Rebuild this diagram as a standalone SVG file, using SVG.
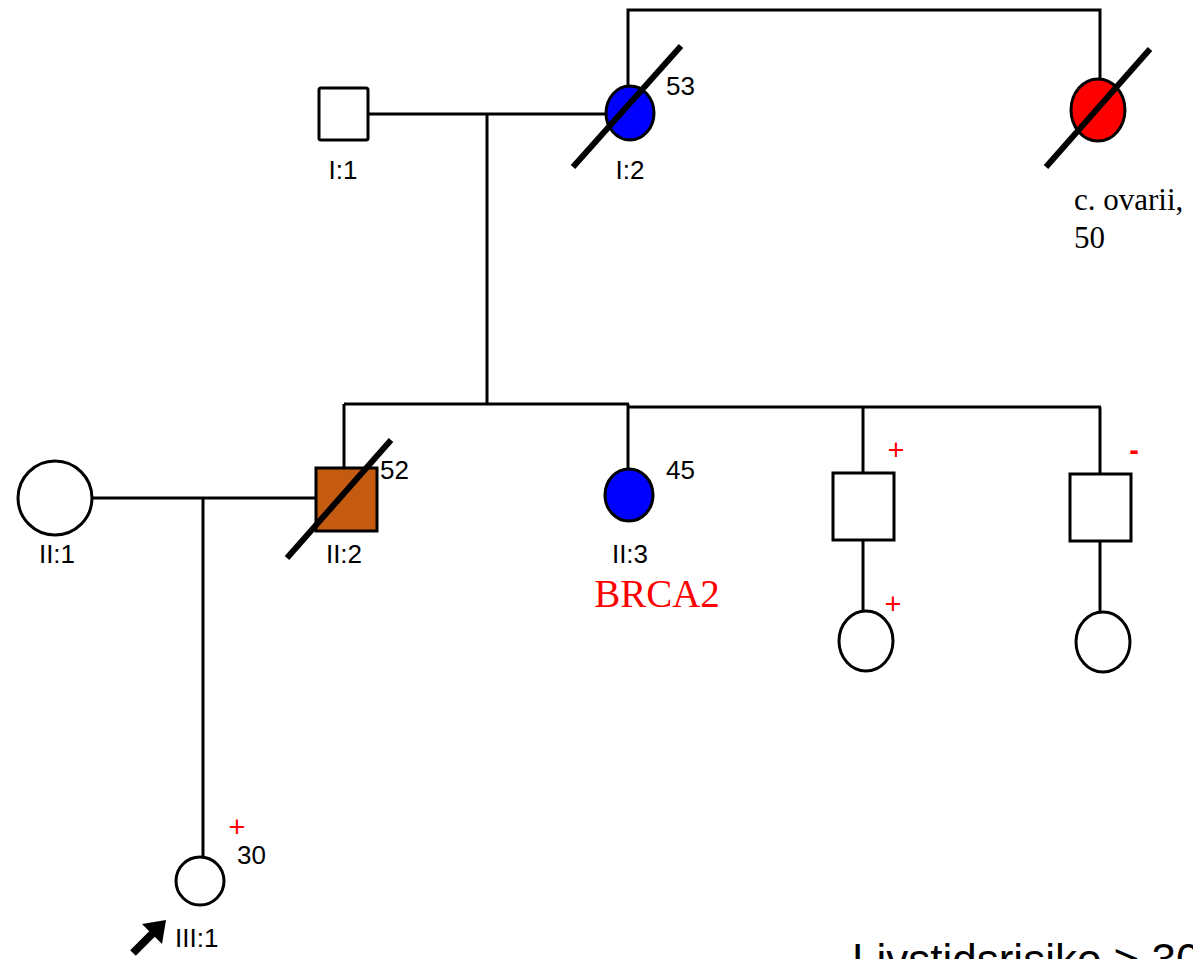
<svg xmlns="http://www.w3.org/2000/svg" width="1193" height="959" viewBox="0 0 1193 959">
<defs>
<style>
.ln{stroke:#000;stroke-width:3;fill:none}
.sym{stroke:#000;stroke-width:3}
.slash{stroke:#000;stroke-width:6}
.lbl{font-family:"Liberation Sans",Arial,sans-serif;font-size:26px;fill:#000}
.red{font-family:"Liberation Sans",Arial,sans-serif;font-size:29px;fill:#f00}
.serif{font-family:"Liberation Serif","Times New Roman",serif;font-size:31px;fill:#000}
</style>
</defs>
<rect width="1193" height="959" fill="#fff"/>
<g id="connectors">
<polyline class="ln" points="628,90 628,10 1100,10 1100,100"/>
<line class="ln" x1="368" y1="114" x2="606" y2="114"/>
<line class="ln" x1="487" y1="114" x2="487" y2="404"/>
<line class="ln" x1="344" y1="404" x2="629" y2="404"/>
<line class="ln" x1="627" y1="407" x2="1101" y2="407"/>
<line class="ln" x1="344" y1="404" x2="344" y2="468"/>
<line class="ln" x1="628" y1="404" x2="628" y2="469"/>
<line class="ln" x1="863" y1="407" x2="863" y2="473"/>
<line class="ln" x1="863" y1="540" x2="863" y2="612"/>
<line class="ln" x1="1100" y1="407" x2="1100" y2="474"/>
<line class="ln" x1="1100" y1="541" x2="1100" y2="613"/>
<line class="ln" x1="93" y1="498" x2="316" y2="498"/>
<line class="ln" x1="203" y1="498" x2="203" y2="857"/>
</g>
<g id="I1">
<rect class="sym" x="319" y="88" width="49" height="52" rx="2" fill="#fff"/>
<text class="lbl" x="343" y="179" text-anchor="middle">I:1</text>
</g>
<g id="I2">
<ellipse class="sym" cx="630" cy="113" rx="24" ry="27" fill="#0000ff"/>
<line class="slash" x1="573" y1="167" x2="681" y2="46"/>
<text class="lbl" x="666" y="95">53</text>
<text class="lbl" x="630" y="179" text-anchor="middle">I:2</text>
</g>
<g id="I3">
<ellipse class="sym" cx="1098" cy="110" rx="27" ry="31" fill="#ff0000"/>
<line class="slash" x1="1046" y1="167" x2="1150" y2="49"/>
<text class="serif" x="1074" y="210">c. ovarii,</text>
<text class="serif" x="1074" y="248">50</text>
</g>
<g id="II1">
<circle class="sym" cx="55" cy="498" r="37" fill="#fff"/>
<text class="lbl" x="57" y="563" text-anchor="middle">II:1</text>
</g>
<g id="II2">
<rect class="sym" x="316" y="468" width="61" height="63" fill="#c55a11"/>
<line class="slash" x1="287" y1="558" x2="391" y2="440"/>
<text class="lbl" x="380" y="479">52</text>
<text class="lbl" x="344" y="563" text-anchor="middle">II:2</text>
</g>
<g id="II3">
<ellipse class="sym" cx="629" cy="495" rx="24" ry="26" fill="#0000ff"/>
<text class="lbl" x="666" y="479">45</text>
<text class="lbl" x="630" y="563" text-anchor="middle">II:3</text>
<text class="serif" x="657" y="607" text-anchor="middle" style="font-size:39px;fill:#f00">BRCA2</text>
</g>
<g id="II4">
<rect class="sym" x="833" y="473" width="61" height="67" fill="#fff"/>
<text class="red" x="896" y="460" text-anchor="middle">+</text>
</g>
<g id="II5">
<rect class="sym" x="1070" y="474" width="61" height="67" fill="#fff"/>
<text class="red" x="1134" y="460" text-anchor="middle" font-weight="bold">-</text>
</g>
<g id="III2">
<ellipse class="sym" cx="866" cy="641" rx="27" ry="30" fill="#fff"/>
<text class="red" x="893" y="614" text-anchor="middle">+</text>
</g>
<g id="III3">
<ellipse class="sym" cx="1103" cy="642" rx="27" ry="30" fill="#fff"/>
</g>
<g id="III1">
<circle class="sym" cx="200" cy="881" r="24" fill="#fff"/>
<text class="red" x="237" y="837" text-anchor="middle">+</text>
<text class="lbl" x="237" y="864">30</text>
<line x1="133" y1="953" x2="153" y2="933" stroke="#000" stroke-width="8"/>
<polygon points="166,920 142,924 162,944" fill="#000"/>
<text class="lbl" x="175" y="947">III:1</text>
</g>
<g id="note">
<text x="852" y="975" style="font-family:'Liberation Sans',Arial,sans-serif;font-size:44px;fill:#000">Livstidsrisiko &gt; 30%</text>
</g>
</svg>
